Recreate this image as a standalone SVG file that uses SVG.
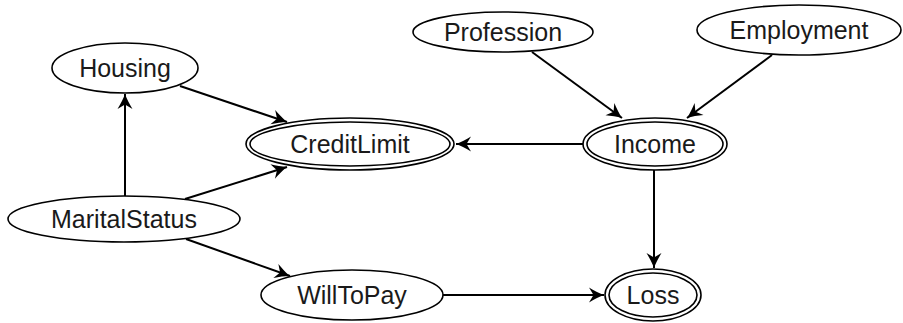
<svg xmlns="http://www.w3.org/2000/svg" width="903" height="323" viewBox="0 0 903 323">
  <style>
    .node ellipse { fill: #ffffff; stroke: #000000; stroke-width: 1.6; }
    .node text { font-family: "Liberation Sans", "DejaVu Sans", sans-serif; font-size: 25px; fill: #1a1a1a; text-anchor: middle; }
    .edges line { stroke: #000000; stroke-width: 2; fill: none; marker-end: url(#arrow); }
  </style>
  <defs>
    <!-- swept-back arrowhead, tip at the origin -->
    <marker id="arrow" markerUnits="userSpaceOnUse" viewBox="-17 -9 18 18" refX="0" refY="0" markerWidth="18" markerHeight="18" orient="auto">
      <path d="M0,0 C-5,-1.8 -10,-4.5 -15,-7.5 L-10.5,0 L-15,7.5 C-10,4.5 -5,1.8 0,0 Z" fill="#000000"/>
    </marker>
  </defs>

  <rect width="903" height="323" fill="#ffffff"/>

  <g class="edges" id="edges">
    <line x1="180" y1="86" x2="287" y2="122"/>
    <line x1="125" y1="197" x2="125" y2="94"/>
    <line x1="185" y1="199" x2="287" y2="167"/>
    <line x1="186" y1="239" x2="290" y2="276"/>
    <line x1="443" y1="295" x2="604" y2="295"/>
    <line x1="583" y1="144" x2="456" y2="144"/>
    <line x1="654" y1="170" x2="654" y2="268"/>
    <line x1="532" y1="52" x2="622" y2="118"/>
    <line x1="772" y1="55" x2="687" y2="118"/>
  </g>

  <g class="node" id="housing">
    <ellipse cx="125" cy="68" rx="73" ry="25"/>
    <text x="125" y="77">Housing</text>
  </g>

  <g class="node" id="profession">
    <ellipse cx="503" cy="32" rx="90" ry="20"/>
    <text x="503" y="41">Profession</text>
  </g>

  <g class="node" id="employment">
    <ellipse cx="799" cy="30" rx="102" ry="25"/>
    <text x="799" y="39">Employment</text>
  </g>

  <g class="node" id="creditlimit">
    <ellipse cx="350" cy="144" rx="104" ry="26"/>
    <ellipse cx="350" cy="144" rx="100" ry="22"/>
    <text x="350" y="153">CreditLimit</text>
  </g>

  <g class="node" id="income">
    <ellipse cx="655" cy="144" rx="72" ry="26"/>
    <ellipse cx="655" cy="144" rx="68" ry="22"/>
    <text x="655" y="153">Income</text>
  </g>

  <g class="node" id="maritalstatus">
    <ellipse cx="124" cy="219" rx="116" ry="23"/>
    <text x="124" y="228">MaritalStatus</text>
  </g>

  <g class="node" id="willtopay">
    <ellipse cx="352" cy="295" rx="91" ry="25"/>
    <text x="352" y="304">WillToPay</text>
  </g>

  <g class="node" id="loss">
    <ellipse cx="653" cy="295" rx="48" ry="26"/>
    <ellipse cx="653" cy="295" rx="44" ry="22"/>
    <text x="653" y="304">Loss</text>
  </g>
</svg>
